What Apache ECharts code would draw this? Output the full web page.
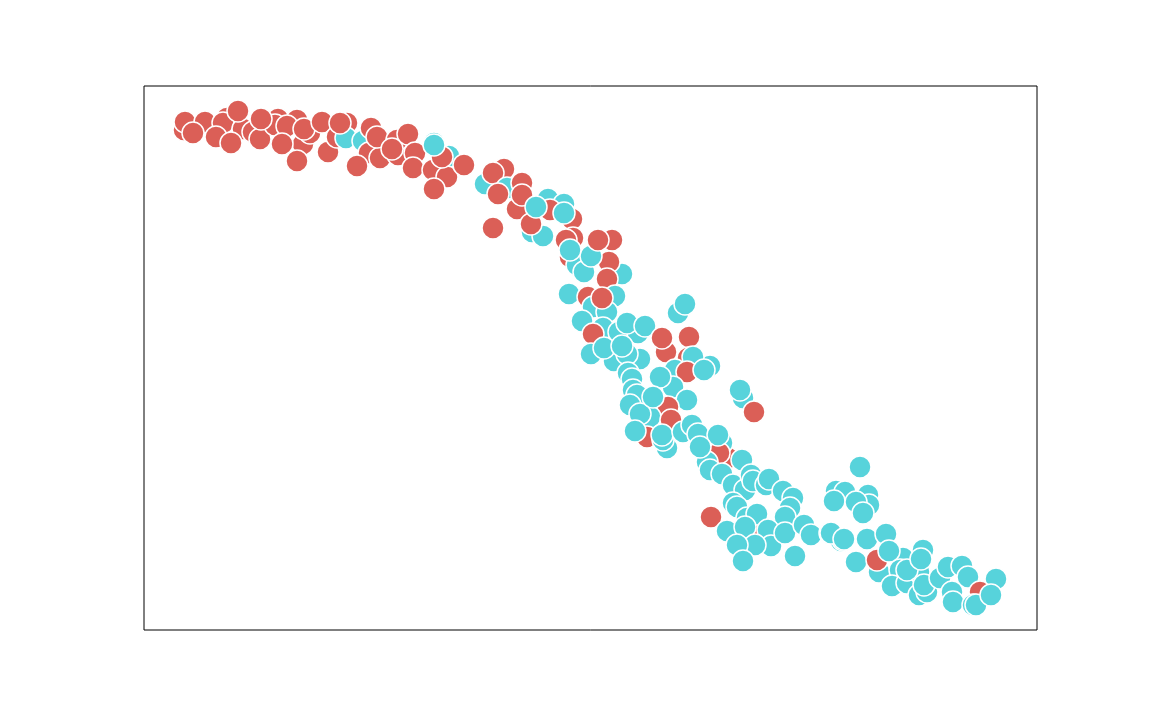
<!doctype html>
<html>
<head>
<meta charset="utf-8">
<title>scatter</title>
<script src="https://cdn.jsdelivr.net/npm/echarts@6/dist/echarts.min.js"></script>
<style>
html,body{margin:0;padding:0;background:#fff}
#chart{width:1152px;height:720px}
</style>
</head>
<body>
<div id="chart"></div>
<script type="text/javascript">
// values, listed in drawing order (later points sit on top)
var xValues = [
	184,185,205,193,227,223,216,243,231,238,253,260,278,275,261,297,287,303,310,282,304,297,322,328,
	347,337,346,340,363,371,369,380,357,377,398,397,392,408,415,413,449,433,447,434,442,434,434,464,
	485,504,493,507,522,498,517,522,548,564,550,572,532,543,531,536,564,493,573,566,570,622,612,577,
	584,609,591,598,607,570,569,588,615,593,607,602,
	582,603,619,638,593,591,614,640,627,604,627,645,622,678,685,666,662,689,688,710,693,675,687,704,
	628,632,673,660,633,637,630,687,668,650,640,653,671,647,635,667,663,662,683,692,698,743,740,754,
	728,722,719,718,707,710,700,722,742,733,745,751,753,766,769,783,793,790,733,737,755,785,747,757,
	711,727,768,745,771,755,785,804,811,737,743,795,830,841,843,
	860,836,845,868,869,834,856,863,831,844,867,886,856,879,877,903,923,900,889,892,907,919,927,919,
	907,921,924,940,948,962,968,996,980,952,953,973,976,991
];
var yValues = [
	130,122,122,133,118,123,137,129,143,111,132,139,119,125,119,120,126,144,133,144,129,161,122,152,
	123,137,138,123,141,128,153,158,166,137,155,140,149,134,153,168,156,170,177,143,157,145,189,165,
	184,169,173,188,183,194,209,195,199,204,210,219,232,236,224,207,213,228,238,240,257,274,240,265,
	272,262,256,240,279,250,294,297,296,307,312,298,
	321,328,332,333,334,354,361,359,354,348,323,326,346,313,304,352,338,337,358,366,357,370,372,370,
	373,379,387,377,390,395,405,400,407,417,414,397,420,437,431,448,440,435,432,425,434,398,390,412,
	458,443,453,435,462,470,447,474,460,485,490,475,481,485,479,491,498,508,503,507,530,517,518,514,
	517,531,530,527,546,545,533,525,535,545,561,556,533,541,540,
	467,491,492,495,505,501,502,513,533,539,539,534,562,572,560,558,550,570,551,586,583,595,592,572,
	570,559,585,578,567,566,577,579,592,592,602,605,605,595
];
// r = red group, t = teal group, one string per line of the arrays above
var groupValues = [
	"rrrrrrrrrrrrrrrrrrrrrrrr",
	"rrtrtrrrrrrrrrrrtrrtrtrr",
	"trrtrrrrttrrttrttrrrrtrt",
	"trtrrttrtttr",
	"ttttrttttttttttrrrrtttrt",
	"ttttttttrtttrrtttttttttr",
	"rtrtttttttttttttttttrttt",
	"rtttttttttttttt",
	"ttttttttttttttrttttttttt",
	"ttttttttrttttt"
].join("").split("");

var colorMap = {r:"#db5f57", t:"#57d3db"};
var points = [];
for(var i=0;i<xValues.length;i++){
	points.push([xValues[i],yValues[i]]);
}

var chart = echarts.init(document.getElementById("chart"));
chart.setOption({
	animation:false,
	backgroundColor:"#fff",
	grid:{show:true,left:144,top:86,width:893,height:544,borderColor:"#000",borderWidth:1},
	xAxis:{type:"value",min:144,max:1037,show:false},
	yAxis:{type:"value",min:86,max:630,inverse:true,show:false},
	series:[{
		type:"scatter",
		symbolSize:22,
		data:points,
		itemStyle:{
			opacity:1,
			borderColor:"#fff",
			borderWidth:1.5,
			color:function(p){return colorMap[groupValues[p.dataIndex]];}
		}
	}]
});
</script>
</body>
</html>
